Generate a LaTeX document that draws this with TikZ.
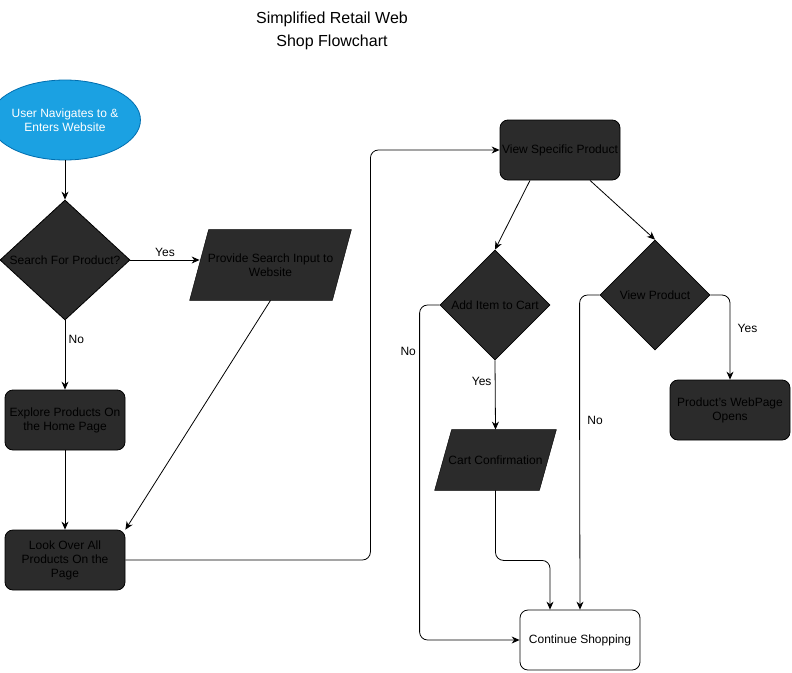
\documentclass[tikz,border=0pt]{standalone}
\usepackage{fontspec}
\setmainfont{Liberation Sans}
\usepackage{tikz}
\usetikzlibrary{arrows.meta}
\usetikzlibrary{shapes.geometric}
\usetikzlibrary{backgrounds}
\definecolor{darkfill}{HTML}{2B2B2B}
\definecolor{startblue}{HTML}{1BA1E2}
\definecolor{startline}{HTML}{006EAF}
\newcommand{\zw}[1]{\makebox[0pt]{#1}}

\begin{document}
\begin{tikzpicture}[x=1pt, y=-1pt, >={Stealth[length=8pt,width=7pt]}, line width=0.8pt,
  txt/.style={font=\fontsize{12}{14}\selectfont, align=center},
  box/.style={txt, draw, fill=darkfill, rounded corners=8pt, minimum width=120, minimum height=60, inner sep=1pt},
  choice/.style={txt, draw, fill=darkfill, diamond, inner sep=0pt},
  io/.style={txt, inner sep=0pt},
  start/.style={txt, draw=startline, fill=startblue, text=white, ellipse, minimum width=120, minimum height=80, inner sep=0pt},
  ]
\useasboundingbox (0,0) rectangle (792,672);
\node[font=\fontsize{16}{23}\selectfont, align=center] (title) at (332,31) {Simplified Retail Web\\Shop Flowchart};
\node[start] (1) at (65,120) {User Navigates to \&\\Enters Website};
\node[choice, minimum width=130, minimum height=120] (2) at (65,260) {\zw{Search For Product?}};
\node[io, minimum width=161, minimum height=70] (3) at (270.5,265) {Provide Search Input to\\Website};
\node[box] (4) at (65,420) {Explore Products On\\the Home Page};
\node[box] (5) at (65,560) {Look Over All\\Products On the\\Page};
\node[box] (6) at (560,150) {View Specific Product};
\node[choice, minimum width=110, minimum height=110] (7) at (495,305) {\zw{Add Item to Cart}};
\node[choice, minimum width=110, minimum height=110] (8) at (655,295) {\zw{View Product}};
\node[io, minimum width=121, minimum height=60] (9) at (495.5,460) {Cart Confirmation};
\node[box] (10) at (730,410) {Product's WebPage\\Opens};
\node[box, fill=white] (11) at (580,640) {Continue Shopping};
% slanted input/output shapes behind their text
\begin{scope}[on background layer]
\foreach \n/\s in {3/19, 9/17}
  \draw[fill=darkfill] ([xshift=\s pt]\n.north west)--(\n.north east)--([xshift=-\s pt]\n.south east)--(\n.south west)--cycle;
\end{scope}
 \draw [->] (1)--(2);
 \draw [->] (2.east)--([xshift=10pt]2.east -| 3.west)node[midway, above, txt]{Yes};
 \draw [->] (2)--(4)node[pos=.28, right, txt]{No};
 \draw [->] (4)--(5);
 \draw [->] (3.south)--(5.north east);
 \draw [->, rounded corners=8pt] (5.east)--++(245,0)|-(6.west);
 \draw [->] ([xshift=-30pt]6.south)--(7.north);
 \draw [->] ([xshift=30pt]6.south)--(8.north);
 \draw [->, rounded corners=8pt] (7.west)--++(-20,0)--++(0,46)node[left, txt]{No}|-(11.west);
 \draw [->] (7.south)--(9.north)node[pos=.3, left, txt]{Yes};
 \draw [->, rounded corners=8pt] (9.south)--++(0,70)-|([xshift=-30pt]11.north);
 \draw [->, rounded corners=8pt] (8.west)--++(-20,0)--++(0,125)node[right, xshift=4pt, txt]{No}--(11.north);
 \draw [->, rounded corners=8pt] (8.east)-|(10.north)node[pos=.7, right, xshift=4pt, txt]{Yes};
\end{tikzpicture}
\end{document}
